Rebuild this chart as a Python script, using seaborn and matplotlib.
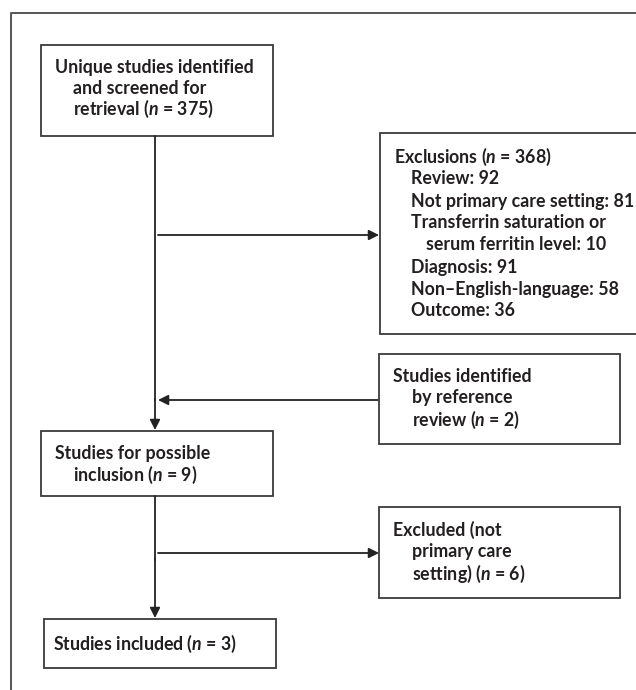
import matplotlib
matplotlib.use('Agg')
import matplotlib.pyplot as plt
from matplotlib.patches import Rectangle
import seaborn as sns

# counts
n_screened = 375
n_excluded = 368
exclusion_reasons = ['Review', 'Not primary care setting',
                     'Transferrin saturation or', 'Diagnosis',
                     'Non\u2013English-language', 'Outcome']
exclusion_counts = [92, 81, 10, 91, 58, 36]
n_reference = 2
n_possible = 9
n_not_primary = 6
n_included = 3

sns.set_style('white')
plt.rcParams['font.family'] = ['Lato', 'DejaVu Sans']
plt.rcParams['mathtext.fontset'] = 'custom'
plt.rcParams['mathtext.it'] = 'Lato:italic:bold'
plt.rcParams['mathtext.rm'] = 'Lato:bold'

N = r'$\it{n}$'
fs = 12.8
tc = '#231f20'
ec = '#3a3a3a'

fig = plt.figure(figsize=(6.36, 6.9), dpi=100)
ax = fig.add_axes([0, 0, 1, 1])
ax.set_xlim(0, 636)
ax.set_ylim(690, 0)
ax.axis('off')

# outer frame (only left and top visible)
ax.plot([11, 11, 700], [700, 13, 13], color='#555555', lw=1.4, solid_capstyle='butt')


def box(x0, y0, x1, y1):
    ax.add_patch(Rectangle((x0, y0), x1 - x0, y1 - y0, fill=True, facecolor='white',
                           edgecolor=ec, lw=1.3, zorder=2))


def txt(x, y, s):
    ax.text(x, y, s, fontsize=fs, fontweight='bold', color=tc, va='center', ha='left',
            zorder=3, clip_on=True)


def arrow(x0, y0, x1, y1):
    ax.annotate('', xy=(x1, y1), xytext=(x0, y0),
                arrowprops=dict(arrowstyle='-|>', color='#222222', lw=1.3,
                                mutation_scale=15, shrinkA=0, shrinkB=0), zorder=1)


# box 1
box(41, 45, 273, 136)
txt(55, 67, 'Unique studies identified')
txt(73, 88, 'and screened for')
txt(73, 109, 'retrieval (' + N + ' = %d)' % n_screened)

# exclusions
box(380, 133, 680, 334)
txt(394, 157, 'Exclusions (' + N + ' = %d)' % n_excluded)
ex_y = [179, 201, 223, 267, 289, 311]
for r, c, y in zip(exclusion_reasons, exclusion_counts, ex_y):
    if r.endswith(' or'):
        txt(411, y, r)
        txt(426, y + 22, 'serum ferritin level: %d' % c)
    else:
        txt(411, y, '%s: %d' % (r, c))

# reference review
box(379, 354, 620, 444)
txt(393, 376, 'Studies identified')
txt(412, 398, 'by reference')
txt(412, 420, 'review (' + N + ' = %d)' % n_reference)

# possible inclusion
box(41, 431, 273, 496)
txt(55, 453, 'Studies for possible')
txt(73, 475, 'inclusion (' + N + ' = %d)' % n_possible)

# excluded
box(379, 507, 620, 598)
txt(393, 530, 'Excluded (not')
txt(412, 552, 'primary care')
txt(412, 574, 'setting) (' + N + ' = %d)' % n_not_primary)

# included
box(44, 619, 276, 668)
txt(53, 644, 'Studies included (' + N + ' = %d)' % n_included)

# connectors
ax.plot([155, 155], [136, 400], color='#222222', lw=1.3)
arrow(155, 399, 155, 430)
arrow(158, 235, 379, 235)
arrow(379, 400, 158, 400)
ax.plot([155, 155], [496, 560], color='#222222', lw=1.3)
arrow(155, 559, 155, 618)
arrow(158, 553, 379, 553)

fig.savefig('out.png', dpi=100)
